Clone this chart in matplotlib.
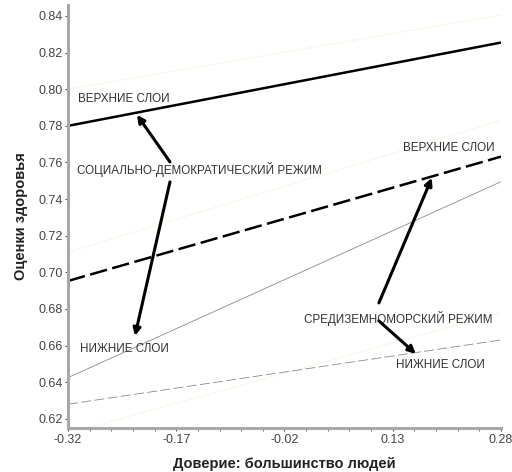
import matplotlib
matplotlib.use('Agg')
import matplotlib.pyplot as plt
import numpy as np

plt.rcParams['font.family'] = ['Liberation Sans', 'DejaVu Sans']

# доверие: концы линий регрессии
trust = [-0.32, 0.28]

# оценки здоровья
soc_upper = [0.780, 0.8255]
soc_lower = [0.6425, 0.7495]
med_upper = [0.6953, 0.7632]
med_lower = [0.628, 0.6631]

# бледные границы доверительных интервалов
soc_upper_ci = [0.800, 0.8405]
med_upper_ci = [0.711, 0.783]
med_lower_ci = [0.612, 0.678]

xticks = [-0.32, -0.17, -0.02, 0.13, 0.28]
yticks = [0.62, 0.64, 0.66, 0.68, 0.70, 0.72, 0.74, 0.76, 0.78, 0.80, 0.82, 0.84]

fig = plt.figure(figsize=(5.12, 4.72), dpi=100)
ax = fig.add_axes([0.1328, 0.0932, 0.8457, 0.8962])

pale = '#f8f5e8'
ax.plot(trust, soc_upper_ci, color=pale, lw=0.8)
ax.plot(trust, med_upper_ci, color=pale, lw=0.8)
ax.plot(trust, med_lower_ci, color=pale, lw=0.8)

ax.plot(trust, soc_upper, color='black', lw=1.8, solid_capstyle='butt')
ax.plot(trust, med_upper, color='black', lw=1.8, dashes=(7, 2.2))
ax.plot(trust, soc_lower, color='#8a8a8a', lw=0.6)
ax.plot(trust, med_lower, color='#8a8a8a', lw=0.6, dashes=(12, 4))

txt = dict(fontsize=8.4, color='#333333', ha='left', va='center')
ax.text(-0.3061, 0.7947, 'ВЕРХНИЕ СЛОИ', **txt)
ax.text(-0.3075, 0.7559, 'СОЦИАЛЬНО-ДЕМОКРАТИЧЕСКИЙ РЕЖИМ', **txt)
ax.text(-0.3034, 0.6582, 'НИЖНИЕ СЛОИ', **txt)
ax.text(0.144, 0.768, 'ВЕРХНИЕ СЛОИ', **txt)
ax.text(0.0069, 0.6746, 'СРЕДИЗЕМНОМОРСКИЙ РЕЖИМ', **txt)
ax.text(0.1343, 0.6495, 'НИЖНИЕ СЛОИ', **txt)

arr = dict(arrowstyle='-|>', color='black', lw=2.2, mutation_scale=11, shrinkA=0, shrinkB=0)
ax.annotate('', xy=(-0.2244, 0.7860), xytext=(-0.1787, 0.7603), arrowprops=arr)
ax.annotate('', xy=(-0.2272, 0.6653), xytext=(-0.1787, 0.7494), arrowprops=arr)
ax.annotate('', xy=(0.1842, 0.7516), xytext=(0.1108, 0.6833), arrowprops=arr)
ax.annotate('', xy=(0.162, 0.6555), xytext=(0.1108, 0.6735), arrowprops=arr)

ax.set_xlim(-0.32, 0.28)
ax.set_ylim(0.615, 0.846)
ax.set_xticks(xticks)
ax.set_xticklabels(['%.2f' % v for v in xticks])
ax.set_xticks(np.arange(-0.32, 0.2801, 0.03), minor=True)
ax.set_yticks(yticks)
ax.set_yticklabels(['%.2f' % v for v in yticks])

for s in ['top', 'right']:
    ax.spines[s].set_visible(False)
for s in ['left', 'bottom']:
    ax.spines[s].set_color('#a8a8a8')
    ax.spines[s].set_linewidth(2.2)

ax.tick_params(axis='both', which='major', length=2.5, width=0.8, color='#555555',
               labelsize=9, labelcolor='#444444', pad=1.5)
ax.tick_params(axis='x', which='minor', length=2, width=0.6, color='#555555')

ax.set_xlabel('Доверие: большинство людей', fontsize=10.5, fontweight='bold', color='#222222', labelpad=8)
ax.set_ylabel('Оценки здоровья', fontsize=10.5, fontweight='bold', color='#222222', labelpad=7)

fig.savefig('out.png', dpi=100)
